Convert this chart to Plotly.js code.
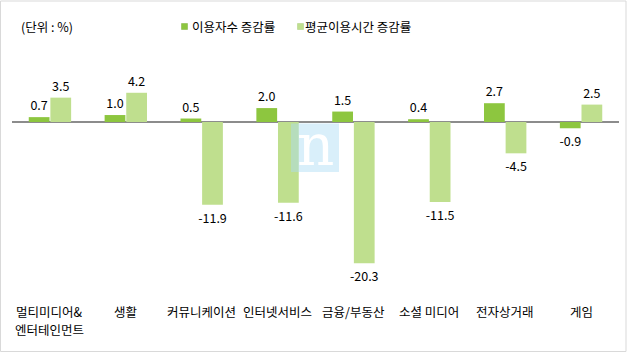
<!DOCTYPE html>
<html>
<head>
<meta charset="utf-8">
<script src="https://cdn.plot.ly/plotly-3.0.1.min.js"></script>
<style>
html,body{margin:0;padding:0;background:#fff;}
#chart{width:630px;height:353px;}
</style>
</head>
<body>
<div id="chart"></div>
<script>
const categories = ['멀티미디어&<br>엔터테인먼트','생활','커뮤니케이션','인터넷서비스','금융/부동산','소셜 미디어','전자상거래','게임'];
const userGrowth = [0.7, 1.0, 0.5, 2.0, 1.5, 0.4, 2.7, -0.9];
const timeGrowth = [3.5, 4.2, -11.9, -11.6, -20.3, -11.5, -4.5, 2.5];
const seriesNames = ['이용자수 증감률', '평균이용시간 증감률'];
const unitLabel = '(단위 : %)';

const W = 630, H = 353;
const M = {l: 12, r: 11, t: 40, b: 50};
const plotW = W - M.l - M.r, plotH = H - M.t - M.b;
const px = x => (x - M.l) / plotW;
const py = y => 1 - (y - M.t) / plotH;

const FONT = '"Noto Sans CJK KR", "Noto Sans", sans-serif';
const FS = 12.5;
const darkGreen = '#8dc63f';
const lightGreen = '#bfdf8e';

const traces = [
  {type: 'bar', name: seriesNames[0], x: categories, y: userGrowth,
   marker: {color: darkGreen}, texttemplate: '%{y:.1f}', textposition: 'outside',
   textfont: {family: FONT, size: FS, color: '#000'}, cliponaxis: false,
   constraintext: 'none', hoverinfo: 'none'},
  {type: 'bar', name: seriesNames[1], x: categories, y: timeGrowth,
   marker: {color: lightGreen}, texttemplate: '%{y:.1f}', textposition: 'outside',
   textfont: {family: FONT, size: FS, color: '#000'}, cliponaxis: false,
   constraintext: 'none', hoverinfo: 'none'}
];

// category labels, one annotation per line, with roomy line spacing
const catAnnotations = [];
categories.forEach(c => {
  c.split('<br>').forEach((line, i) => {
    catAnnotations.push({xref: 'x', yref: 'paper', x: c, y: py(311 + i * 18.5),
      xanchor: 'center', yanchor: 'middle', text: line, showarrow: false, borderpad: 0,
      font: {family: FONT, size: FS, color: '#000'}});
  });
});

const layout = {
  width: W, height: H,
  margin: M,
  paper_bgcolor: '#fff', plot_bgcolor: '#fff',
  font: {family: FONT, size: FS, color: '#000'},
  showlegend: false,
  barmode: 'group', bargap: 0.43, bargroupgap: 0.04,
  xaxis: {type: 'category', range: [-0.5, 7.5], showgrid: false, showline: false,
          ticks: '', showticklabels: false, fixedrange: true},
  yaxis: {range: [-(H - M.b - 122) / 6.96, (122 - M.t) / 6.96], showgrid: false,
          showticklabels: false, ticks: '', zeroline: true, zerolinecolor: '#8c8c8c',
          zerolinewidth: 1.5, showline: false, fixedrange: true},
  shapes: [
    {type: 'rect', xref: 'paper', yref: 'paper', x0: px(0.5), x1: px(626), y0: py(1), y1: py(351.5),
     line: {color: '#d9d9d9', width: 1}, fillcolor: 'rgba(0,0,0,0)', layer: 'above'},
    {type: 'rect', xref: 'paper', yref: 'paper', x0: px(291), x1: px(339), y0: py(123.5), y1: py(172),
     line: {width: 0}, fillcolor: 'rgba(170,220,245,0.45)', layer: 'above'},
    {type: 'rect', xref: 'paper', yref: 'paper', x0: px(181.5), x1: px(187.5), y0: py(23.5), y1: py(29.5),
     line: {width: 0.5, color: '#7fb13a'}, fillcolor: darkGreen},
    {type: 'rect', xref: 'paper', yref: 'paper', x0: px(297.5), x1: px(303.5), y0: py(23.5), y1: py(29.5),
     line: {width: 0.5, color: '#a9cc7a'}, fillcolor: lightGreen}
  ],
  annotations: [
    {xref: 'paper', yref: 'paper', x: px(19), y: py(26.5), xanchor: 'left', yanchor: 'middle',
     text: unitLabel, showarrow: false, font: {family: FONT, size: FS, color: '#000'}},
    {xref: 'paper', yref: 'paper', x: px(190), y: py(27), xanchor: 'left', yanchor: 'middle',
     text: seriesNames[0], showarrow: false, font: {family: FONT, size: FS, color: '#000'}},
    {xref: 'paper', yref: 'paper', x: px(303), y: py(27), xanchor: 'left', yanchor: 'middle',
     text: seriesNames[1], showarrow: false, font: {family: FONT, size: FS, color: '#000'}},
    {xref: 'paper', yref: 'paper', x: px(315), y: py(145), xanchor: 'center', yanchor: 'middle',
     text: 'n', showarrow: false, font: {family: '"DejaVu Serif", "Liberation Serif", serif', size: 58, color: '#ffffff'}}
  ].concat(catAnnotations)
};

Plotly.newPlot('chart', traces, layout, {staticPlot: true, displayModeBar: false});
</script>
</body>
</html>
